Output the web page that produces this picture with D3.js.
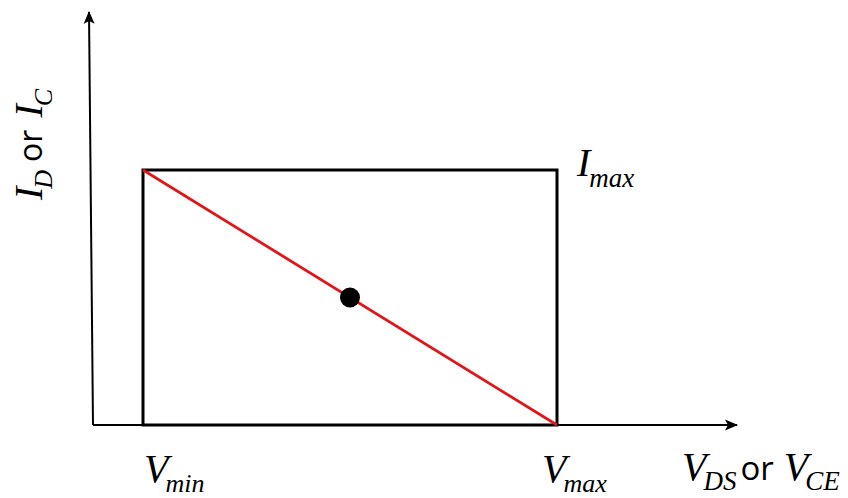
<!DOCTYPE html>
<html>
<head>
<meta charset="utf-8">
<script src="https://cdn.jsdelivr.net/npm/d3@7"></script>
<style>
  body { margin: 0; background: #fff; }
  .serif { font-family: "Liberation Serif", "DejaVu Serif", serif; font-style: italic; }
  .sans { font-family: "Open Sans", "Liberation Sans", sans-serif; }
</style>
</head>
<body>
<div id="chart"></div>
<script>
// operating region values (arbitrary units)
const vMin = 1
const vMax = 9.28
const iMax = 10
const axisEnd = [12.88, 16.2]  // x, y ends of axes

const width = 848, height = 498

const svg = d3.select("#chart")
  .append("svg")
    .attr("width", width)
    .attr("height", height)

const x = d3.scaleLinear().domain([0, 10]).range([93, 593])
const y = d3.scaleLinear().domain([0, 10]).range([425, 170])

// arrow head
svg.append("defs").append("marker")
    .attr("id", "arrow")
    .attr("viewBox", "0 -6 14 12")
    .attr("refX", 12)
    .attr("refY", 0)
    .attr("markerWidth", 14)
    .attr("markerHeight", 12)
    .attr("markerUnits", "userSpaceOnUse")
    .attr("orient", "auto")
  .append("path")
    .attr("d", "M0,-5.5L13,0L0,5.5L3,0Z")
    .attr("fill", "#000")

// axes
svg.append("line")
    .attr("x1", x(0)).attr("y1", y(0))
    .attr("x2", x(axisEnd[0])).attr("y2", y(0))
    .attr("stroke", "#000").attr("stroke-width", 2)
    .attr("marker-end", "url(#arrow)")

svg.append("line")
    .attr("x1", x(0)).attr("y1", y(0))
    .attr("x2", x(0) - 4).attr("y2", y(axisEnd[1]))
    .attr("stroke", "#000").attr("stroke-width", 2)
    .attr("marker-end", "url(#arrow)")

// operating rectangle
svg.append("rect")
    .attr("x", x(vMin))
    .attr("y", y(iMax))
    .attr("width", x(vMax) - x(vMin))
    .attr("height", y(0) - y(iMax))
    .attr("fill", "none")
    .attr("stroke", "#000")
    .attr("stroke-width", 3)

// load line
svg.append("line")
    .attr("x1", x(vMin)).attr("y1", y(iMax))
    .attr("x2", x(vMax)).attr("y2", y(0))
    .attr("stroke", "#e0161b")
    .attr("stroke-width", 2.8)

// Q point
svg.append("circle")
    .attr("cx", x((vMin + vMax) / 2))
    .attr("cy", y(iMax / 2))
    .attr("r", 10)
    .attr("fill", "#000")

// label helper: main letter + subscript
function subLabel(g, parts) {
  const t = g.append("text").attr("fill", "#000")
  parts.forEach(p => {
    t.append("tspan")
      .attr("class", p.cls)
      .attr("font-size", p.size)
      .attr("dy", p.dy || 0)
      .attr("dx", p.dx || 0)
      .text(p.text)
  })
  return t
}

// I_max
subLabel(svg.append("g").attr("transform", `translate(${x(vMax) + 20},${y(iMax) + 6})`), [
  {text: "I", cls: "serif", size: 40},
  {text: "max", cls: "serif", size: 27, dy: 11, dx: -1}
])

// V_min
subLabel(svg.append("g").attr("transform", `translate(${x(vMin) + 1},${y(0) + 57})`), [
  {text: "V", cls: "serif", size: 40},
  {text: "min", cls: "serif", size: 26, dy: 10, dx: -3}
])

// V_max
subLabel(svg.append("g").attr("transform", `translate(${x(vMax) - 15},${y(0) + 57})`), [
  {text: "V", cls: "serif", size: 40},
  {text: "max", cls: "serif", size: 26, dy: 10, dx: -3}
])

// x axis title
subLabel(svg.append("g").attr("transform", `translate(682,${y(0) + 55})`), [
  {text: "V", cls: "serif", size: 40},
  {text: "DS", cls: "serif", size: 27, dy: 10, dx: -3},
  {text: "or", cls: "sans", size: 33, dy: -10, dx: 4},
  {text: "V", cls: "serif", size: 40, dx: 10},
  {text: "CE", cls: "serif", size: 27, dy: 10, dx: -3}
])

// y axis title
subLabel(svg.append("g").attr("transform", "translate(42,200) rotate(-90)"), [
  {text: "I", cls: "serif", size: 40},
  {text: "D", cls: "serif", size: 26, dy: 10, dx: -2},
  {text: "or", cls: "sans", size: 32, dy: -10, dx: 8},
  {text: "I", cls: "serif", size: 40, dx: 12},
  {text: "C", cls: "serif", size: 26, dy: 10, dx: -2}
])
</script>
</body>
</html>
